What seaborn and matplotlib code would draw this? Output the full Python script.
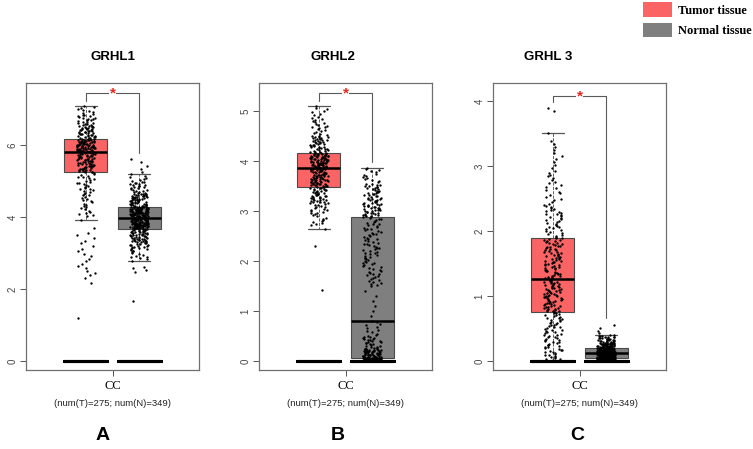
import numpy as np
import pandas as pd
import matplotlib
matplotlib.use("Agg")
import matplotlib.pyplot as plt
from matplotlib.patches import Patch
import seaborn as sns

sns.set_style("white")
plt.rcParams["font.family"] = ["Liberation Sans", "DejaVu Sans"]
plt.rcParams["text.color"] = "black"

genes = ["GRHL1", "GRHL2", "GRHL 3"]
panel_letters = ["A", "B", "C"]
groups = ["Tumor", "Normal"]
group_labels = ["Tumor tissue", "Normal tissue"]
n_tumor = 275
n_normal = 349
cancer = "CC"

# expression quantiles: (cumulative share, value)
grhl1_tumor_p = [0, 0.004, 0.04, 0.075, 0.082, 0.15, 0.25, 0.5, 0.75, 0.9, 0.97, 1]
grhl1_tumor_v = [1.2, 2.25, 2.9, 3.6, 4.0, 4.6, 5.25, 5.81, 6.17, 6.55, 6.85, 7.08]
grhl1_normal_p = [0, 0.003, 0.012, 0.015, 0.05, 0.1, 0.25, 0.5, 0.75, 0.9, 0.97, 0.985, 0.99, 1]
grhl1_normal_v = [1.68, 2.5, 2.62, 2.81, 3.1, 3.3, 3.67, 3.97, 4.28, 4.65, 5.0, 5.17, 5.3, 5.6]

grhl2_tumor_p = [0, 0.004, 0.008, 0.05, 0.1, 0.25, 0.5, 0.75, 0.9, 0.97, 1]
grhl2_tumor_v = [1.42, 2.38, 2.7, 2.95, 3.15, 3.48, 3.86, 4.16, 4.5, 4.85, 5.1]
grhl2_normal_p = [0, 0.25, 0.4, 0.47, 0.5, 0.52, 0.58, 0.75, 0.88, 0.96, 1]
grhl2_normal_v = [0.0, 0.06, 0.25, 0.5, 0.8, 1.5, 1.9, 2.88, 3.25, 3.55, 3.86]

grhl3_tumor_p = [0, 0.1, 0.25, 0.5, 0.75, 0.88, 0.95, 0.99, 0.993, 0.996, 1]
grhl3_tumor_v = [0.0, 0.3, 0.75, 1.26, 1.89, 2.4, 2.9, 3.4, 3.52, 3.85, 3.9]
grhl3_normal_p = [0, 0.1, 0.25, 0.5, 0.75, 0.9, 0.98, 0.99, 0.993, 1]
grhl3_normal_v = [0.0, 0.01, 0.05, 0.12, 0.2, 0.28, 0.38, 0.41, 0.45, 0.55]

knots = {
    "GRHL1": [(grhl1_tumor_p, grhl1_tumor_v), (grhl1_normal_p, grhl1_normal_v)],
    "GRHL2": [(grhl2_tumor_p, grhl2_tumor_v), (grhl2_normal_p, grhl2_normal_v)],
    "GRHL 3": [(grhl3_tumor_p, grhl3_tumor_v), (grhl3_normal_p, grhl3_normal_v)],
}

y_limits = [(-0.25, 7.72), (-0.18, 5.56), (-0.14, 4.28)]
y_ticks = [[0, 2, 4, 6], [0, 1, 2, 3, 4, 5], [0, 1, 2, 3, 4]]
# significance bracket: left end, top, right end
brackets = [(7.22, 7.44, 5.78), (5.2, 5.36, 3.98), (3.98, 4.08, 0.66)]

tumor_color = "#FA6464"
normal_color = "#7F7F7F"
palette = {"Tumor": tumor_color, "Normal": normal_color}

np.random.seed(7)  # jitter only

fig = plt.figure(figsize=(7.53, 4.49), dpi=100)
W, H = 753, 449
ax_lefts = [26, 259, 493]
ax_w = 173
ax_top, ax_bottom = 83, 370
title_x = [113, 333, 548]
letter_x = [103, 338, 577]

for i, gene in enumerate(genes):
    ax = fig.add_axes([ax_lefts[i] / W, (H - ax_bottom) / H, ax_w / W, (ax_bottom - ax_top) / H])

    rows = []
    for grp, n, (p, v) in zip(groups, [n_tumor, n_normal], knots[gene]):
        vals = np.interp(np.arange(n) / (n - 1), p, v)
        rows.append(pd.DataFrame({"group": grp, "value": vals}))
    df = pd.concat(rows, ignore_index=True)
    zeros = pd.DataFrame({"group": groups * 5, "value": 0.0})

    sns.boxplot(data=df, x="group", y="value", hue="group", order=groups,
                palette=palette, saturation=1, width=0.81, linewidth=0.8,
                linecolor="#4a4a4a", showfliers=False, legend=False, ax=ax,
                whiskerprops=dict(linestyle="--", linewidth=0.6),
                capprops=dict(color="#555555", linewidth=0.9),
                medianprops=dict(color="black", linewidth=1.8))
    sns.stripplot(data=df, x="group", y="value", order=groups, color="black",
                  size=1.7, jitter=0.17, linewidth=0, ax=ax, zorder=3)
    sns.boxplot(data=zeros, x="group", y="value", order=groups, width=0.81,
                fill=False, color="black", linewidth=2.2, whis=0,
                showfliers=False, showcaps=False, ax=ax,
                medianprops=dict(color="black"))

    # significance bracket
    yl, yt, yr = brackets[i]
    ax.plot([0, 0, 1, 1], [yl, yt, yt, yr], color="#5a5a5a", lw=0.8, zorder=4)
    ax.text(0.5, yt, "*", color="#E8261C", fontsize=11, fontweight="bold",
            ha="center", va="center", zorder=5,
            bbox=dict(facecolor="white", edgecolor="none", pad=0.5))

    ax.set_xlim(-1.13, 2.13)
    ax.set_ylim(*y_limits[i])
    ax.set_yticks(y_ticks[i])
    ax.set_xticks([0.5])
    ax.set_xticklabels([""])
    ax.set_xlabel("")
    ax.set_ylabel("")
    ax.tick_params(axis="y", labelrotation=90, labelsize=7, labelcolor="#444444",
                   length=4, width=0.7, color="#555555", left=True, pad=2)
    ax.tick_params(axis="x", length=4, width=0.7, color="#555555", bottom=True)
    for lab in ax.get_yticklabels():
        lab.set_va("center")
    for s in ax.spines.values():
        s.set_color("#707070")
        s.set_linewidth(0.9)

    ax.text(0.5, -0.056, cancer, transform=ax.transAxes, ha="center", va="center",
            fontsize=9, family=["Liberation Serif", "DejaVu Serif"])
    ax.text(0.5, -0.115, f"(num(T)={n_tumor}; num(N)={n_normal})", transform=ax.transAxes,
            ha="center", va="center", fontsize=6.8, color="#222222")

    fig.text(title_x[i] / W, 1 - 57 / H, gene, ha="center", va="center",
             fontsize=9.5, fontweight="bold")
    fig.text(letter_x[i] / W, 1 - 436 / H, panel_letters[i], ha="center", va="center",
             fontsize=14, fontweight="bold")

handles = [Patch(facecolor=palette[g], edgecolor="none") for g in groups]
fig.legend(handles, group_labels, loc="upper left", bbox_to_anchor=(637 / W, 1 + 4 / H),
           frameon=False, borderpad=0, handlelength=2.3, handleheight=1.4,
           labelspacing=0.5, handletextpad=0.5,
           prop=dict(family="Liberation Serif", weight="bold", size=9))

fig.savefig("out.png", dpi=100)
